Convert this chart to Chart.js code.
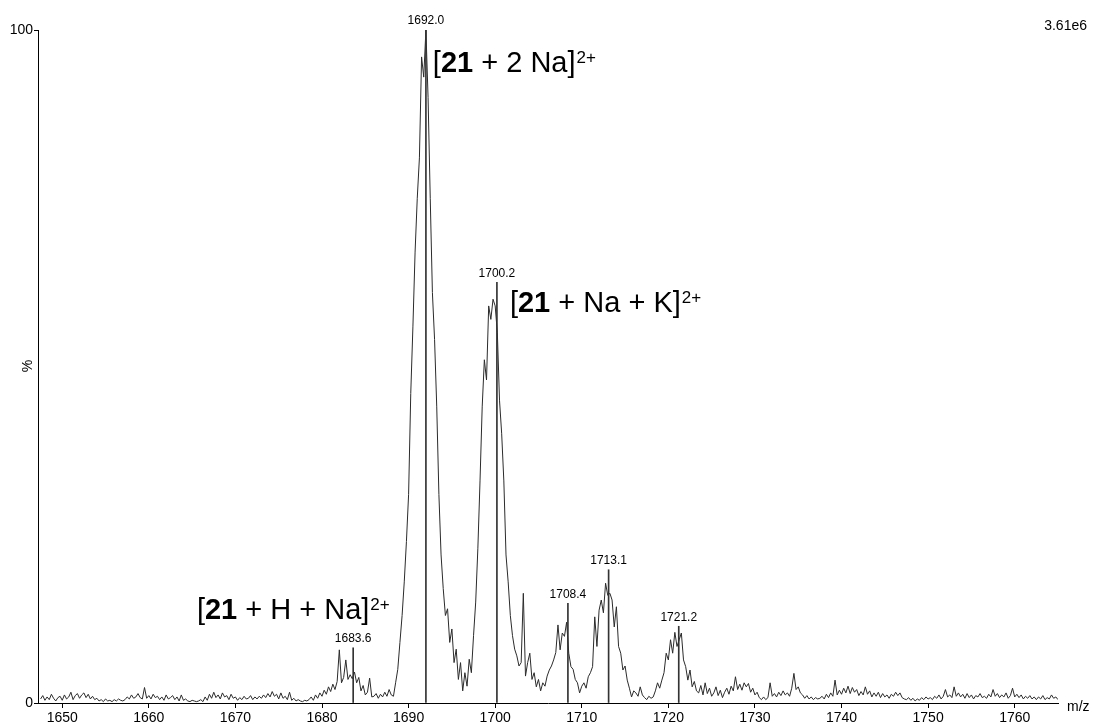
<!DOCTYPE html>
<html>
<head>
<meta charset="utf-8">
<title>ESI mass spectrum</title>
<script src="https://cdn.jsdelivr.net/npm/chart.js@4/dist/chart.umd.min.js"></script>
<style>
  html, body { margin: 0; padding: 0; background: #fff; }
  canvas { display: block; }
</style>
</head>
<body>
<canvas id="spectrum" width="1096" height="727"></canvas>
<script>
// profile sampled every 0.25 m/z starting at 1647.5 (values in % of base peak)
const mzStart = 1647.5;
const mzStep = 0.25;
const intensity = [
  0.6,1.1,0.4,0.9,0.5,1.3,0.7,0.3,0.8,1.0,0.4,1.2,0.6,0.9,1.6,0.5,1.1,1.4,0.7,1.2,
  1.5,0.8,1.3,0.6,1.0,0.5,0.7,0.3,0.5,0.2,0.6,0.3,0.4,0.2,0.5,0.3,0.6,0.4,0.3,0.5,
  0.9,0.6,1.2,0.7,0.9,1.4,0.8,0.6,2.3,0.7,1.1,0.6,1.3,0.8,1.0,0.5,0.9,0.4,1.2,0.6,
  0.8,1.1,0.5,0.9,0.3,1.2,0.4,0.6,0.3,0.2,0.4,0.3,0.2,0.3,0.5,0.2,0.9,0.4,1.3,0.7,
  1.6,0.8,1.2,0.6,1.5,0.9,1.1,0.5,1.3,0.7,0.9,0.4,0.8,0.5,1.0,0.6,0.7,1.1,0.5,0.9,
  0.6,1.0,0.7,1.2,0.8,1.4,0.9,1.7,1.0,1.3,0.6,1.5,0.7,1.0,0.5,1.6,0.4,0.7,0.3,0.5,
  0.3,0.2,0.4,0.3,0.5,0.9,0.4,1.2,0.7,1.5,1.0,1.9,1.3,2.4,1.7,2.8,2.0,3.2,7.9,3.0,
  3.8,6.4,3.5,4.2,3.6,4.6,3.0,3.8,1.8,2.6,1.2,1.6,3.7,0.9,1.0,1.4,0.7,1.3,0.9,1.6,
  1.0,2.0,1.2,1.0,3.0,5.0,9.0,13,18,24,31,46,56,67,75,81,96,93,100,90,
  75,61,54,44,31,22,17,13,14,9,11,6,8,3.5,6,1.8,4.5,2.5,6.5,4.5,
  10,15,23,33,44,51,48,59,57,60,59,55,45,40,33,22,18,13,10,8,
  7,5.5,6,16.3,4,6,7.4,3.5,4.5,2.4,3.5,1.8,3,2.5,4,4.9,5.5,6.4,7.5,11.6,
  7.9,10.4,9.9,12,7.4,5.4,5,3.5,3,1.5,2.5,3,2.2,3.9,4.5,5.4,12.8,8.4,13.8,15.3,
  13.4,17.8,16,16.3,15.3,11.3,14.3,8.4,7.4,4.9,5.5,3.4,2.2,0.9,1.8,1.5,1.0,2.4,1.2,0.8,
  0.5,1.0,0.7,0.9,1.8,3,2.2,3.4,4.5,7.4,6.4,9.4,7.4,10.5,8.4,9.4,10.4,6.4,5.4,3.4,
  4.9,2.4,3.2,1.8,1.5,2.6,1.2,3.0,1.4,2.2,1.0,1.5,2.4,1.1,1.9,0.8,1.6,2.2,1.3,2.5,
  1.8,3.9,2.0,2.8,1.9,3.0,2.4,2.9,1.6,2.2,1.2,1.6,0.8,0.5,0.9,0.5,0.8,3.0,1.0,1.4,
  0.9,1.6,1.1,1.8,1.2,1.5,1.0,2.2,4.4,2.0,2.4,1.5,1.2,0.7,1.1,0.6,0.9,0.5,0.8,0.6,
  0.7,1.0,0.6,1.3,0.8,1.5,1.0,3.4,1.2,1.9,1.3,2.2,1.5,2.5,1.4,2.3,1.6,2.0,1.1,1.7,
  1.2,2.4,1.3,1.8,0.9,1.5,1.0,1.6,0.8,1.4,0.9,1.2,0.7,1.3,1.0,1.6,1.1,1.5,0.8,0.6,
  0.5,0.8,0.4,0.7,0.3,0.6,0.4,0.8,0.5,0.9,0.6,0.8,0.5,1.0,0.7,1.2,0.6,1.0,2.0,0.9,
  1.2,0.8,2.4,1.0,1.5,0.9,1.3,0.7,1.4,0.8,1.2,0.6,1.1,0.9,1.4,0.8,1.0,0.7,1.3,0.9,
  2.0,1.0,1.4,0.8,1.2,0.9,1.5,0.7,1.1,2.2,0.9,1.3,0.8,1.2,0.6,1.0,0.7,1.1,0.6,0.9,
  0.5,0.9,0.6,1.1,0.5,0.8,0.6,1.2,0.7,0.9,0.5
];

// labelled peaks
const peakMz = [1683.6, 1692.0, 1700.2, 1708.4, 1713.1, 1721.2];
const peakPct = [8.2, 100, 62.5, 14.8, 19.8, 11.4];

const xTicks = [1650, 1660, 1670, 1680, 1690, 1700, 1710, 1720, 1730, 1740, 1750, 1760];
const yTicks = [0, 100];

// ion assignments, anchored in data units (left edge / baseline)
const ionLabels = [
  { before: '[', bold: '21', after: ' + 2 Na]', charge: '2+', mz: 1692.8, pct: 93.8 },
  { before: '[', bold: '21', after: ' + Na + K]', charge: '2+', mz: 1701.7, pct: 58.1 },
  { before: '[', bold: '21', after: ' + H + Na]', charge: '2+', mz: 1665.55, pct: 12.5 }
];

const FONT = '"Liberation Sans", Arial, Helvetica, sans-serif';

const profile = intensity.map((v, i) => ({ x: mzStart + i * mzStep, y: v }));
const sticks = peakMz.map((m, i) => ({ x: m, y: peakPct[i] }));

const textPlugin = {
  id: 'msText',
  afterDatasetsDraw(chart) {
    const ctx = chart.ctx;
    const x = chart.scales.x, y = chart.scales.y;
    ctx.save();
    ctx.fillStyle = '#000';

    // peak m/z labels
    ctx.font = '12px ' + FONT;
    ctx.textAlign = 'center';
    ctx.textBaseline = 'middle';
    peakMz.forEach((m, i) => {
      ctx.fillText(m.toFixed(1), x.getPixelForValue(m), y.getPixelForValue(peakPct[i]) - 9);
    });

    // ion labels
    ctx.textAlign = 'left';
    ctx.textBaseline = 'alphabetic';
    ionLabels.forEach(l => {
      let px = x.getPixelForValue(l.mz);
      const py = y.getPixelForValue(l.pct);
      [[l.before, ''], [l.bold, 'bold '], [l.after, '']].forEach(([t, w]) => {
        ctx.font = w + '29px ' + FONT;
        ctx.fillText(t, px, py);
        px += ctx.measureText(t).width;
      });
      ctx.font = '17px ' + FONT;
      ctx.fillText(l.charge, px + 1, py - 9);
    });

    // axis captions
    ctx.font = '14px ' + FONT;
    ctx.textBaseline = 'middle';
    ctx.fillText('m/z', x.right + 9, y.bottom + 4);
    ctx.textAlign = 'right';
    ctx.fillText('3.61e6', 1087, 26);

    ctx.translate(28, 366);
    ctx.rotate(-Math.PI / 2);
    ctx.textAlign = 'center';
    ctx.fillText('%', 0, 0);
    ctx.restore();
  }
};

new Chart(document.getElementById('spectrum'), {
  type: 'line',
  data: {
    datasets: [
      {
        type: 'bar',
        data: sticks,
        backgroundColor: '#333',
        barThickness: 1,
        grouped: false
      },
      {
        type: 'line',
        data: profile,
        borderColor: '#2b2b2b',
        borderWidth: 1,
        pointRadius: 0,
        tension: 0,
        fill: false
      }
    ]
  },
  options: {
    responsive: false,
    animation: false,
    devicePixelRatio: 1,
    layout: { padding: { top: 30, right: 38, bottom: 0, left: 0 } },
    plugins: { legend: { display: false }, tooltip: { enabled: false } },
    scales: {
      x: {
        type: 'linear',
        min: 1647.2,
        max: 1765,
        offset: false,
        afterBuildTicks: s => { s.ticks = xTicks.map(v => ({ value: v })); },
        afterFit: s => { s.height = 24; },
        grid: { display: true, offset: false, drawOnChartArea: false, drawTicks: true, tickLength: 5, color: '#000' },
        border: { display: true, color: '#000', width: 1 },
        ticks: {
          color: '#000',
          font: { family: FONT, size: 14 },
          padding: 2,
          maxRotation: 0,
          autoSkip: false,
          callback: v => String(v)
        }
      },
      y: {
        type: 'linear',
        min: 0,
        max: 100,
        afterBuildTicks: s => { s.ticks = yTicks.map(v => ({ value: v })); },
        afterFit: s => { s.width = 38; },
        grid: { display: true, offset: false, drawOnChartArea: false, drawTicks: true, tickLength: 4, color: '#000' },
        border: { display: true, color: '#000', width: 1 },
        ticks: {
          color: '#000',
          font: { family: FONT, size: 14 },
          padding: 1,
          callback: v => String(v)
        }
      }
    }
  },
  plugins: [textPlugin]
});
</script>
</body>
</html>
